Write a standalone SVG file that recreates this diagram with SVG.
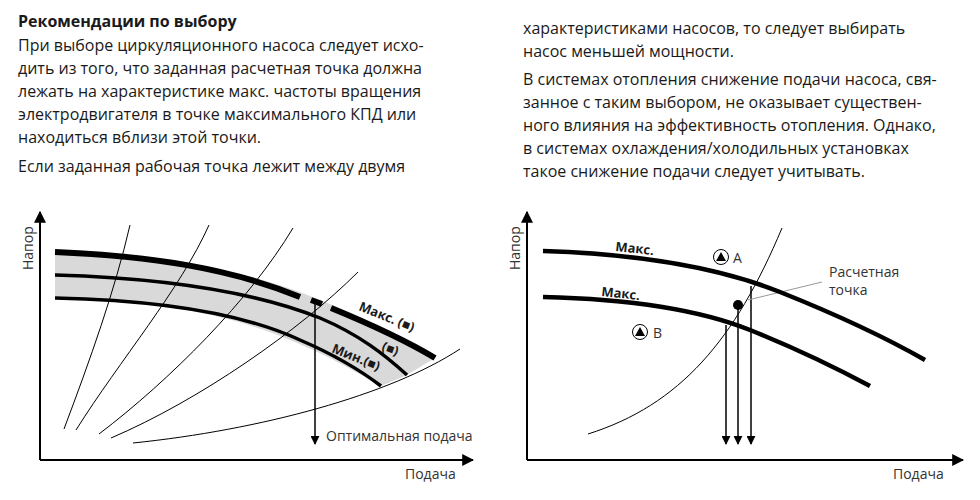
<svg xmlns="http://www.w3.org/2000/svg" width="980" height="500" viewBox="0 0 980 500">
<defs>
<marker id="ah" viewBox="0 0 10 10" refX="9" refY="5" markerWidth="9" markerHeight="9" markerUnits="userSpaceOnUse" orient="auto"><path d="M0,0L10,5L0,10z" fill="#000"/></marker>
<marker id="ax" viewBox="0 0 10 10" refX="9" refY="5" markerWidth="12" markerHeight="12" markerUnits="userSpaceOnUse" orient="auto"><path d="M0,0L10,5L0,10z" fill="#000"/></marker>
<style>
text{font-family:"Open Sans","Noto Sans",sans-serif;fill:#1a1a1a}
.b{font-size:16px}
.h{font-size:16px;font-weight:bold}
.s{font-size:14px;fill:#333}
.l{font-size:13px;font-weight:bold}
.t{fill:none;stroke:#000;stroke-width:1}
.k{fill:none;stroke:#000;stroke-linecap:butt}
</style>
</defs>
<g id="text">
<text class="h" x="18" y="27">Рекомендации по выбору</text>
<text class="b" x="18" y="51">При выборе циркуляционного насоса следует исхо-</text>
<text class="b" x="18" y="74">дить из того, что заданная расчетная точка должна</text>
<text class="b" x="18" y="97">лежать на характеристике макс. частоты вращения</text>
<text class="b" x="18" y="120">электродвигателя в точке максимального КПД или</text>
<text class="b" x="18" y="143">находиться вблизи этой точки.</text>
<text class="b" x="18" y="172">Если заданная рабочая точка лежит между двумя</text>
<text class="b" x="523" y="34">характеристиками насосов, то следует выбирать</text>
<text class="b" x="523" y="57">насос меньшей мощности.</text>
<text class="b" x="523" y="85">В системах отопления снижение подачи насоса, свя-</text>
<text class="b" x="523" y="108">занное с таким выбором, не оказывает существен-</text>
<text class="b" x="523" y="131">ного влияния на эффективность отопления. Однако,</text>
<text class="b" x="523" y="154">в системах охлаждения/холодильных установках</text>
<text class="b" x="523" y="177">такое снижение подачи следует учитывать.</text>
</g>
<g id="chart-left">
<path d="M55,252 C180,256 260,275 320,300 C370,320 410,340 435,358 L407,375 L381,386 C350,368 320,352 290,340 C220,310 130,298 55,298 Z" fill="#d9d9d9"/>
<path class="t" d="M64,429 C90,360 115,290 130,225"/>
<path class="t" d="M76,430 C120,360 180,290 209,225"/>
<path class="t" d="M99,434 C170,380 250,300 293,228"/>
<path class="t" d="M111,438 C200,400 300,330 358,272"/>
<path class="t" d="M133,443 C260,430 390,395 460,349"/>
<path class="k" stroke-width="6" d="M55,252 C150,256 230,268 300,297"/>
<path class="k" stroke-width="6" d="M311,300 L322,304"/>
<path class="k" stroke-width="6" d="M331,308 C370,324 405,340 435,358"/>
<path class="k" stroke-width="3.5" d="M55,275 C160,278 250,290 320,318 C360,335 385,355 407,375"/>
<path class="k" stroke-width="3.5" d="M55,298 C150,300 240,312 300,340 C335,355 360,370 381,386"/>
<text class="l" transform="translate(358,310) rotate(22)">Макс. (■)</text>
<text class="l" transform="translate(381,350) rotate(20)">(■)</text>
<text class="l" transform="translate(331,352) rotate(22)">Мин.(■)</text>
</g>
<g id="axes-left">
<line x1="40" y1="460" x2="40" y2="212" stroke="#000" stroke-width="2" marker-end="url(#ax)"/>
<line x1="40" y1="460" x2="473" y2="460" stroke="#000" stroke-width="2" marker-end="url(#ax)"/>
<text class="s" transform="translate(33,270) rotate(-90)">Напор</text>
<text class="s" x="405" y="479">Подача</text>
</g>
<g id="connectors">
<line x1="315" y1="303" x2="315" y2="444" stroke="#000" stroke-width="1.5" marker-end="url(#ah)"/>
<line x1="726" y1="325" x2="726" y2="444" stroke="#000" stroke-width="1.5" marker-end="url(#ah)"/>
<line x1="738" y1="305" x2="738" y2="444" stroke="#000" stroke-width="1.5" marker-end="url(#ah)"/>
<line x1="751" y1="286" x2="751" y2="444" stroke="#000" stroke-width="1.5" marker-end="url(#ah)"/>
<line x1="822" y1="282" x2="748" y2="300" stroke="#999" stroke-width="1"/>
</g>
<text class="s" x="326" y="441">Оптимальная подача</text>
<g id="chart-right">
<path class="t" d="M588,434 C680,405 735,340 782,228"/>
<path class="k" stroke-width="4.5" d="M543,251 C640,254 720,268 780,292 C850,320 890,340 925,360"/>
<path class="k" stroke-width="4.5" d="M543,297 C630,299 700,310 750,330 C800,350 840,370 870,386"/>
<circle cx="738" cy="305" r="5" fill="#000"/>
<text class="l" transform="translate(615,251) rotate(6)">Макс.</text>
<text class="l" transform="translate(601,296) rotate(6)">Макс.</text>
<g id="pumpA"><circle cx="721" cy="257" r="7.5" fill="#fff" stroke="#000" stroke-width="1"/><path d="M716,261L721,252L726,261Z" fill="#000"/><text class="s" x="733" y="263">A</text></g>
<g id="pumpB"><circle cx="640" cy="332" r="7.5" fill="#fff" stroke="#000" stroke-width="1"/><path d="M635,336L640,327L645,336Z" fill="#000"/><text class="s" x="653" y="338">B</text></g>
<text class="s" x="829" y="277">Расчетная</text>
<text class="s" x="829" y="295">точка</text>
</g>
<g id="axes-right">
<line x1="527" y1="460" x2="527" y2="212" stroke="#000" stroke-width="2" marker-end="url(#ax)"/>
<line x1="527" y1="460" x2="963" y2="460" stroke="#000" stroke-width="2" marker-end="url(#ax)"/>
<text class="s" transform="translate(520,270) rotate(-90)">Напор</text>
<text class="s" x="893" y="479">Подача</text>
</g>
</svg>
